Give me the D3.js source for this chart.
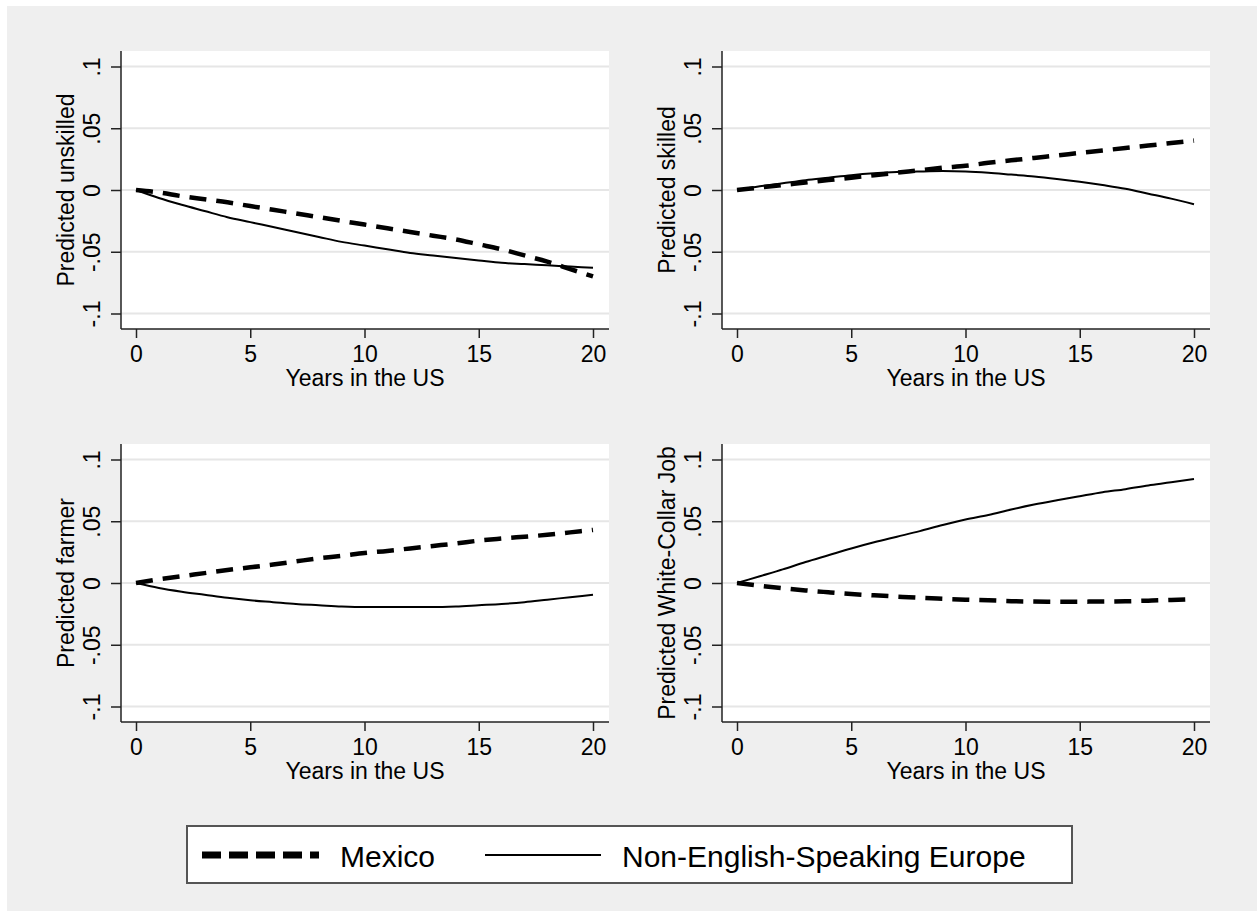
<!DOCTYPE html>
<html>
<head>
<meta charset="utf-8">
<script src="https://cdn.jsdelivr.net/npm/d3@7"></script>
<style>
  body { margin: 0; background: #fff; }
  text { font-family: "Liberation Sans", Arial, sans-serif; fill: #000; }
</style>
</head>
<body>
<script>
// years since arrival (x values shared by every panel)
const years = [0, 1, 2, 3, 4, 5, 6, 7, 8, 9, 10, 11, 12, 13, 14, 15, 16, 17, 18, 19, 20];

const unskilledMexico = [0, -0.002, -0.005, -0.0075, -0.010, -0.013, -0.016, -0.019, -0.022, -0.025, -0.028,
  -0.031, -0.034, -0.037, -0.040, -0.044, -0.048, -0.053, -0.058, -0.064, -0.070];
const unskilledEurope = [0, -0.0065, -0.012, -0.017, -0.022, -0.026, -0.030, -0.034, -0.038, -0.042, -0.045,
  -0.048, -0.051, -0.053, -0.055, -0.057, -0.059, -0.060, -0.061, -0.062, -0.063];

const skilledMexico = [0, 0.002, 0.004, 0.006, 0.008, 0.010, 0.012, 0.014, 0.016, 0.018, 0.0196,
  0.022, 0.024, 0.026, 0.028, 0.030, 0.032, 0.034, 0.036, 0.038, 0.040];
const skilledEurope = [0, 0.003, 0.0055, 0.008, 0.010, 0.012, 0.0135, 0.0145, 0.015, 0.0153, 0.015,
  0.014, 0.0125, 0.011, 0.009, 0.0067, 0.004, 0.001, -0.003, -0.007, -0.0115];

const farmerMexico = [0, 0.003, 0.0055, 0.008, 0.0105, 0.0127, 0.015, 0.0175, 0.020, 0.022, 0.0243,
  0.026, 0.028, 0.030, 0.032, 0.0343, 0.036, 0.0375, 0.039, 0.041, 0.043];
const farmerEurope = [0, -0.004, -0.007, -0.0095, -0.012, -0.014, -0.0155, -0.017, -0.018, -0.019, -0.0195,
  -0.0195, -0.0195, -0.0195, -0.019, -0.018, -0.017, -0.0155, -0.0135, -0.0115, -0.0095];

const whiteCollarMexico = [0, -0.0022, -0.0042, -0.006, -0.0075, -0.0089, -0.010, -0.011, -0.012, -0.0128, -0.0135,
  -0.014, -0.0147, -0.015, -0.0151, -0.0151, -0.015, -0.0148, -0.0143, -0.0137, -0.013];
const whiteCollarEurope = [0, 0.0055, 0.011, 0.017, 0.0225, 0.028, 0.033, 0.0375, 0.042, 0.047, 0.0515,
  0.055, 0.0595, 0.0635, 0.067, 0.0703, 0.0735, 0.076, 0.079, 0.0815, 0.0843];

const panelTitles = ["Predicted unskilled", "Predicted skilled", "Predicted farmer", "Predicted White-Collar Job"];
const xTicks = [0, 5, 10, 15, 20];
const yTicks = [0.1, 0.05, 0, -0.05, -0.1];
const yTickLabels = [".1", ".05", "0", "-.05", "-.1"];
const xTitle = "Years in the US";
const legendLabels = ["Mexico", "Non-English-Speaking Europe"];

const width = 1257, height = 911;

const svg = d3.select("body").append("svg")
  .attr("width", width)
  .attr("height", height);

// outer gray graph region
svg.append("rect")
  .attr("x", 7).attr("y", 6)
  .attr("width", width - 7).attr("height", height - 6)
  .attr("fill", "#efefef");

const panels = [
  { title: panelTitles[0], mexico: unskilledMexico, europe: unskilledEurope, left: 121, top: 51 },
  { title: panelTitles[1], mexico: skilledMexico, europe: skilledEurope, left: 722, top: 51 },
  { title: panelTitles[2], mexico: farmerMexico, europe: farmerEurope, left: 121, top: 444 },
  { title: panelTitles[3], mexico: whiteCollarMexico, europe: whiteCollarEurope, left: 722, top: 444 }
];

const plotW = 488, plotH = 278;

panels.forEach(p => {
  const g = svg.append("g").attr("transform", `translate(${p.left},${p.top})`);

  const x = d3.scaleLinear().domain([0, 20]).range([15, 15 + 457]);
  const y = d3.scaleLinear().domain([-0.1, 0.1]).range([plotH - 15.5, 15.5]);

  // white plot region
  g.append("rect")
    .attr("width", plotW).attr("height", plotH)
    .attr("fill", "#fff");

  // gridlines
  g.append("g")
    .selectAll("line")
    .data(yTicks)
    .join("line")
    .attr("x1", 0).attr("x2", plotW)
    .attr("y1", d => y(d)).attr("y2", d => y(d))
    .attr("stroke", "#e6e6e6")
    .attr("stroke-width", 2);

  // y axis
  const yAxis = d3.axisLeft(y)
    .tickValues(yTicks)
    .tickFormat((d, i) => yTickLabels[i])
    .tickSize(10);

  g.append("g")
    .call(yAxis)
    .call(a => a.select(".domain").remove())
    .call(a => a.selectAll(".tick line").attr("stroke", "#222").attr("stroke-width", 1.5))
    .call(a => a.selectAll(".tick text")
      .attr("transform", "rotate(-90)")
      .attr("x", 0).attr("y", -21).attr("dy", null)
      .attr("text-anchor", "middle")
      .attr("font-size", 23)
      .attr("font-family", "Liberation Sans, Arial, sans-serif")
      .attr("fill", "#000"));

  // x axis
  const xAxis = d3.axisBottom(x)
    .tickValues(xTicks)
    .tickFormat(d3.format("d"))
    .tickSize(9);

  g.append("g")
    .attr("transform", `translate(0,${plotH})`)
    .call(xAxis)
    .call(a => a.select(".domain").remove())
    .call(a => a.selectAll(".tick line").attr("stroke", "#222").attr("stroke-width", 1.5))
    .call(a => a.selectAll(".tick text")
      .attr("y", 33).attr("dy", null)
      .attr("font-size", 23)
      .attr("font-family", "Liberation Sans, Arial, sans-serif")
      .attr("fill", "#000"));

  // axis lines
  g.append("line")
    .attr("x1", 0).attr("x2", 0).attr("y1", 0).attr("y2", plotH)
    .attr("stroke", "#222").attr("stroke-width", 1.5);
  g.append("line")
    .attr("x1", 0).attr("x2", plotW).attr("y1", plotH).attr("y2", plotH)
    .attr("stroke", "#222").attr("stroke-width", 1.5);

  // titles
  g.append("text")
    .attr("x", plotW / 2).attr("y", plotH + 57)
    .attr("text-anchor", "middle")
    .attr("font-size", 23)
    .text(xTitle);

  g.append("text")
    .attr("transform", `translate(-47,${plotH / 2}) rotate(-90)`)
    .attr("text-anchor", "middle")
    .attr("font-size", 23)
    .text(p.title);

  const line = d3.line()
    .x((d, i) => x(years[i]))
    .y(d => y(d))
    .curve(d3.curveMonotoneX);

  // Non-English-Speaking Europe (solid)
  g.append("path")
    .attr("d", line(p.europe))
    .attr("fill", "none")
    .attr("stroke", "#000")
    .attr("stroke-width", 2);

  // Mexico (dashed)
  g.append("path")
    .attr("d", line(p.mexico))
    .attr("fill", "none")
    .attr("stroke", "#000")
    .attr("stroke-width", 4.5)
    .attr("stroke-dasharray", "17,10");
});

// legend
const legend = svg.append("g");
legend.append("rect")
  .attr("x", 187).attr("y", 826)
  .attr("width", 885).attr("height", 57)
  .attr("fill", "#fff")
  .attr("stroke", "#555")
  .attr("stroke-width", 2);

const legendKeys = [
  { x1: 202, x2: 319, width: 7, dash: "19,8", textX: 340 },
  { x1: 485, x2: 601, width: 2, dash: null, textX: 622 }
];

legendKeys.forEach((k, i) => {
  legend.append("line")
    .attr("x1", k.x1).attr("x2", k.x2)
    .attr("y1", 855).attr("y2", 855)
    .attr("stroke", "#000")
    .attr("stroke-width", k.width)
    .attr("stroke-dasharray", k.dash);
  legend.append("text")
    .attr("x", k.textX).attr("y", 867)
    .attr("font-size", 30)
    .text(legendLabels[i]);
});
</script>
</body>
</html>
